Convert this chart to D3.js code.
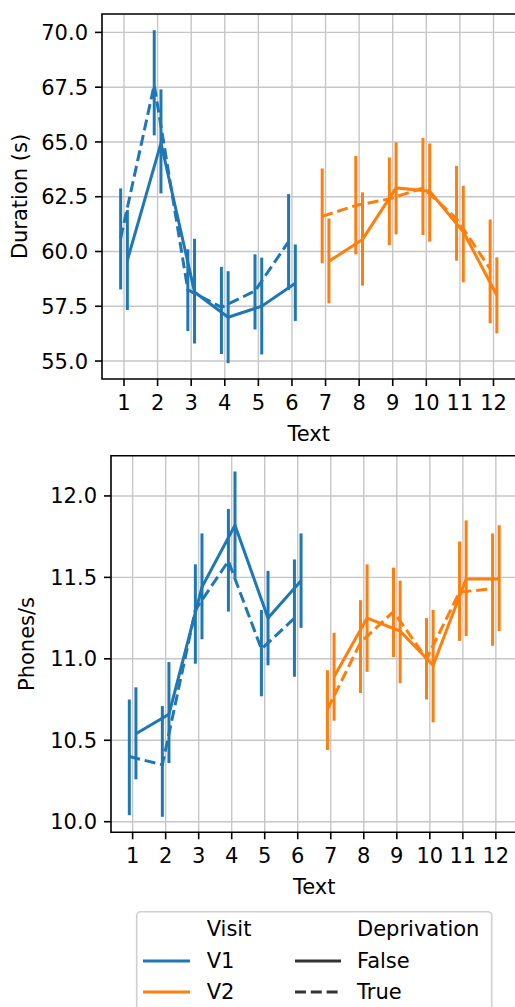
<!DOCTYPE html>
<html>
<head>
<meta charset="utf-8">
<script src="https://cdn.jsdelivr.net/npm/d3@7"></script>
<style>
  body { margin: 0; background: #fff; }
  text { font-family: "DejaVu Sans", sans-serif; fill: #000; }
</style>
</head>
<body>
<div id="chart"></div>
<script>
// 数据
var texts = [1, 2, 3, 4, 5, 6, 7, 8, 9, 10, 11, 12];
var visits = ['V1', 'V1', 'V1', 'V1', 'V1', 'V1', 'V2', 'V2', 'V2', 'V2', 'V2', 'V2'];

// Duration (s), Deprivation = False
var durFalse = [59.6, 64.95, 58.15, 57.0, 57.5, 58.55, 59.55, 60.55, 62.9, 62.75, 60.9, 58.0];
var durFalseLo = [57.33, 62.65, 55.8, 54.9, 55.3, 56.83, 57.63, 58.44, 60.78, 60.45, 58.59, 56.26];
var durFalseHi = [61.89, 67.4, 60.58, 59.1, 59.72, 60.32, 61.51, 62.7, 64.98, 64.93, 63.0, 59.73];
// Duration (s), Deprivation = True
var durTrue = [60.6, 67.6, 58.25, 57.45, 58.2, 60.45, 61.6, 62.1, 62.4, 62.9, 61.5, 59.2];
var durTrueLo = [58.27, 65.3, 56.37, 55.32, 56.44, 58.24, 59.46, 59.87, 60.29, 60.75, 59.58, 56.72];
var durTrueHi = [62.88, 70.1, 60.1, 59.3, 59.87, 62.62, 63.79, 64.36, 64.29, 65.19, 63.91, 61.46];

// Phones/s, Deprivation = False
var phFalse = [10.54, 10.66, 11.44, 11.82, 11.25, 11.48, 10.89, 11.25, 11.17, 10.96, 11.49, 11.49];
var phFalseLo = [10.26, 10.36, 11.12, 11.5, 10.96, 11.19, 10.62, 10.92, 10.85, 10.61, 11.14, 11.17];
var phFalseHi = [10.825, 10.98, 11.77, 12.15, 11.54, 11.77, 11.16, 11.58, 11.48, 11.3, 11.85, 11.82];
// Phones/s, Deprivation = True
var phTrue = [10.4, 10.35, 11.3, 11.6, 11.06, 11.25, 10.69, 11.1, 11.29, 11.0, 11.41, 11.43];
var phTrueLo = [10.04, 10.03, 10.97, 11.29, 10.77, 10.89, 10.44, 10.79, 11.01, 10.75, 11.11, 11.08];
var phTrueHi = [10.75, 10.71, 11.58, 11.92, 11.3, 11.61, 10.93, 11.36, 11.56, 11.25, 11.72, 11.77];

var durTicks = [55.0, 57.5, 60.0, 62.5, 65.0, 67.5, 70.0];
var phTicks = [10.0, 10.5, 11.0, 11.5, 12.0];

var visitNames = ['V1', 'V2'];
var visitColors = ['#1f77b4', '#ff7f0e'];
var deprivNames = ['False', 'True'];

var W = 515, H = 1007;
var color = d3.scaleOrdinal().domain(visitNames).range(visitColors);

var svg = d3.select('#chart').append('svg').attr('width', W).attr('height', H);

function drawPanel(cfg) {
    var g = svg.append('g');
    var x = d3.scaleLinear().domain([0.345, 12.655]).range([cfg.left, cfg.right]);
    var y = d3.scaleLinear().domain(cfg.yDomain).range([cfg.bottom, cfg.top]);

    // 网格
    g.selectAll('.vgrid').data(texts).enter().append('line')
        .attr('x1', function (d) { return x(d); }).attr('x2', function (d) { return x(d); })
        .attr('y1', cfg.top).attr('y2', cfg.bottom)
        .style('stroke', '#c6c6c6').style('stroke-width', 1.4);
    g.selectAll('.hgrid').data(cfg.ticks).enter().append('line')
        .attr('x1', cfg.left).attr('x2', cfg.right)
        .attr('y1', function (d) { return y(d); }).attr('y2', function (d) { return y(d); })
        .style('stroke', '#c6c6c6').style('stroke-width', 1.4);

    // 各组折线 + 误差线
    var groups = [
        {dep: 'False', mean: cfg.fMean, lo: cfg.fLo, hi: cfg.fHi, off: 0.1, dash: null},
        {dep: 'True', mean: cfg.tMean, lo: cfg.tLo, hi: cfg.tHi, off: -0.1, dash: '11,4.8'}
    ];
    var line = d3.line().x(function (d) { return x(d.t); }).y(function (d) { return y(d.v); });
    visitNames.forEach(function (vn) {
        groups.forEach(function (gr) {
            var pts = [];
            texts.forEach(function (t, i) {
                if (visits[i] === vn) pts.push({t: t + gr.off, v: gr.mean[i], lo: gr.lo[i], hi: gr.hi[i]});
            });
            g.append('path').datum(pts).attr('d', line)
                .style('fill', 'none').style('stroke', color(vn)).style('stroke-width', 3)
                .style('stroke-dasharray', gr.dash);
            g.selectAll(null).data(pts).enter().append('line')
                .attr('x1', function (d) { return x(d.t); }).attr('x2', function (d) { return x(d.t); })
                .attr('y1', function (d) { return y(d.lo); }).attr('y2', function (d) { return y(d.hi); })
                .style('stroke', color(vn)).style('stroke-width', 3);
        });
    });

    // 边框（右侧在图外）
    g.append('path')
        .attr('d', 'M' + cfg.right + ',' + cfg.top + 'H' + cfg.left + 'V' + cfg.bottom + 'H' + cfg.right)
        .style('fill', 'none').style('stroke', '#000').style('stroke-width', 1.6);

    // x 轴刻度
    texts.forEach(function (t) {
        g.append('line').attr('x1', x(t)).attr('x2', x(t)).attr('y1', cfg.bottom).attr('y2', cfg.bottom + 7)
            .style('stroke', '#000').style('stroke-width', 1.6);
        g.append('text').text(t).attr('x', x(t)).attr('y', cfg.bottom + 31)
            .attr('text-anchor', 'middle').style('font-size', '21px');
    });
    // y 轴刻度
    cfg.ticks.forEach(function (v) {
        g.append('line').attr('x1', cfg.left - 7).attr('x2', cfg.left).attr('y1', y(v)).attr('y2', y(v))
            .style('stroke', '#000').style('stroke-width', 1.6);
        g.append('text').text(v.toFixed(1)).attr('x', cfg.left - 14).attr('y', y(v)).attr('dy', '0.36em')
            .attr('text-anchor', 'end').style('font-size', '21px');
    });

    // 轴标题
    g.append('text').text('Text').attr('x', (cfg.left + cfg.right) / 2).attr('y', cfg.bottom + 62)
        .attr('text-anchor', 'middle').style('font-size', '21px');
    g.append('text').text(cfg.yLabel)
        .attr('transform', 'translate(' + cfg.yLabelX + ',' + (cfg.top + cfg.bottom) / 2 + ') rotate(-90)')
        .attr('text-anchor', 'middle').style('font-size', '21px');
}

drawPanel({
    left: 102, right: 515.5, top: 14, bottom: 379,
    yDomain: [54.18, 70.84], ticks: durTicks, yLabel: 'Duration (s)', yLabelX: 27,
    fMean: durFalse, fLo: durFalseLo, fHi: durFalseHi,
    tMean: durTrue, tLo: durTrueLo, tHi: durTrueHi
});
drawPanel({
    left: 111, right: 517.5, top: 455.7, bottom: 832.3,
    yDomain: [9.935, 12.247], ticks: phTicks, yLabel: 'Phones/s', yLabelX: 34,
    fMean: phFalse, fLo: phFalseLo, fHi: phFalseHi,
    tMean: phTrue, tLo: phTrueLo, tHi: phTrueHi
});

// 图例
var lg = svg.append('g');
lg.append('rect').attr('x', 136.7).attr('y', 911.7).attr('width', 355).attr('height', 120).attr('rx', 4)
    .style('fill', '#fff').style('fill-opacity', 0.8).style('stroke', '#d0d0d0').style('stroke-width', 1.6);
var rowY = [961, 992];
lg.append('text').text('Visit').attr('x', 206.7).attr('y', 936).style('font-size', '21px');
lg.append('text').text('Deprivation').attr('x', 357).attr('y', 936).style('font-size', '21px');
visitNames.forEach(function (vn, i) {
    lg.append('line').attr('x1', 143).attr('x2', 190).attr('y1', rowY[i]).attr('y2', rowY[i])
        .style('stroke', color(vn)).style('stroke-width', 3);
    lg.append('text').text(vn).attr('x', 206.7).attr('y', rowY[i] + 7).style('font-size', '21px');
});
deprivNames.forEach(function (dn, i) {
    lg.append('line').attr('x1', 295).attr('x2', 341).attr('y1', rowY[i]).attr('y2', rowY[i])
        .style('stroke', '#333').style('stroke-width', 3)
        .style('stroke-dasharray', dn === 'True' ? '11,4.8' : null);
    lg.append('text').text(dn).attr('x', 357).attr('y', rowY[i] + 7).style('font-size', '21px');
});
</script>
</body>
</html>
